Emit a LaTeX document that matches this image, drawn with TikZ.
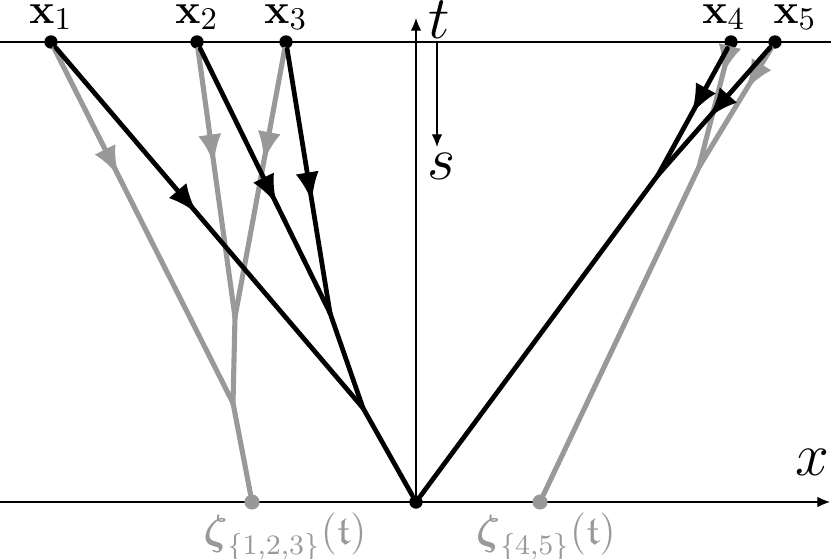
\documentclass[tikz,border=0pt]{standalone}
\usepackage{amssymb,amsmath}
\usepackage{mathtools}
\usetikzlibrary{arrows.meta,decorations.markings,positioning}
\begin{document}
\begin{tikzpicture}[x=0.01cm,y=0.01cm,
  axis/.style={line width=0.35pt},
  axtip/.style={-{Latex[length=3.6pt,width=3pt]}},
  bpath/.style={line width=1.35pt,line cap=round},
  gpath/.style={line width=1.45pt,line cap=round,black!40},
  flow/.style={postaction={decorate},decoration={markings,mark=at position #1 with {\arrow{Latex[length=8.5pt,width=6.6pt]}}}},
  dot/.style={circle,fill=black,minimum size=3.8pt},
  gdot/.style={circle,fill=black!40,minimum size=4.3pt},
  lab/.style={font=\fontsize{12.5}{14}\selectfont},
  glab/.style={font=\fontsize{11.5}{13}\selectfont,text=black!40},
  axlab/.style={font=\LARGE}]
\tikzstyle{every node}+=[inner sep=0pt]
\useasboundingbox (0,0) rectangle (831,-558);
\coordinate (tl) at (0,-42);
\coordinate (tr) at (831,-42);
\coordinate (xl) at (0,-502);
\coordinate (xtip) at (830,-502);
\coordinate (O) at (416,-502);
\coordinate (ttip) at (416,-18);
\coordinate (s0) at (437,-43);
\coordinate (stip) at (437,-147);
\draw [axis] (tl) -- (tr);
\draw [axis,axtip] (xl) -- (xtip);
\draw [axis,axtip] (O) -- (ttip);
\draw [axis,axtip] (s0) -- (stip);
\node [axlab,right=3.4pt of ttip,yshift=-0.6pt] (t) {$t$};
\node [axlab,below=1.7pt of stip,xshift=1.4pt] (s) {$s$};
\node [axlab,above left=7.4pt and 0pt of xtip] (x) {$x$};
\node [dot] (x1) at (51,-42) {};
\node [dot] (x2) at (197,-42) {};
\node [dot] (x3) at (286,-42) {};
\node [dot] (x4) at (731,-42) {};
\node [dot] (x5) at (775,-42) {};
\node [dot] (o) at (O) {};
\node [gdot] (z1) at (252,-502) {};
\node [gdot] (z2) at (540,-502) {};
\node [lab,above=1.2pt of x1] (lx1) {$\mathbf{x}_1$};
\node [lab,above=1.2pt of x2] (lx2) {$\mathbf{x}_2$};
\node [lab,above=1.2pt of x3] (lx3) {$\mathbf{x}_3$};
\node [lab,above=1.2pt of x4,xshift=-2pt] (lx4) {$\mathbf{x}_4$};
\node [lab,above=1.2pt of x5,xshift=5.7pt] (lx5) {$\mathbf{x}_5$};
\node [glab,below=0.6pt of z1,xshift=9.4pt] (lz1) {$\boldsymbol{\zeta}_{\{1,2,3\}}(\mathfrak{t})$};
\node [glab,below=0.6pt of z2,xshift=1.7pt] (lz2) {$\boldsymbol{\zeta}_{\{4,5\}}(\mathfrak{t})$};
\coordinate (g23) at (235,-317);
\coordinate (g123) at (233,-403);
\coordinate (g45) at (699,-167);
\coordinate (b23) at (330,-313);
\coordinate (b123) at (363,-408);
\coordinate (b45) at (658,-175);
\draw [gpath,flow=0.36] (x1) -- (g123);
\draw [gpath,flow=0.43] (x2) -- (g23);
\draw [gpath,flow=0.42] (x3) -- (g23);
\draw [gpath] (g23) -- (g123) -- (z1);
\draw [gpath,flow=0.22] (x4) -- (g45);
\draw [gpath,flow=0.35] (x5) -- (g45);
\draw [gpath] (g45) -- (z2);
\draw [bpath,flow=0.46] (x1) -- (b123);
\draw [bpath,flow=0.59] (x2) -- (b23);
\draw [bpath,flow=0.58] (x3) -- (b23);
\draw [bpath] (b23) -- (b123) -- (o);
\draw [bpath,flow=0.52] (x4) -- (b45);
\draw [bpath,flow=0.55] (x5) -- (b45);
\draw [bpath] (b45) -- (o);
\end{tikzpicture}
\end{document}
